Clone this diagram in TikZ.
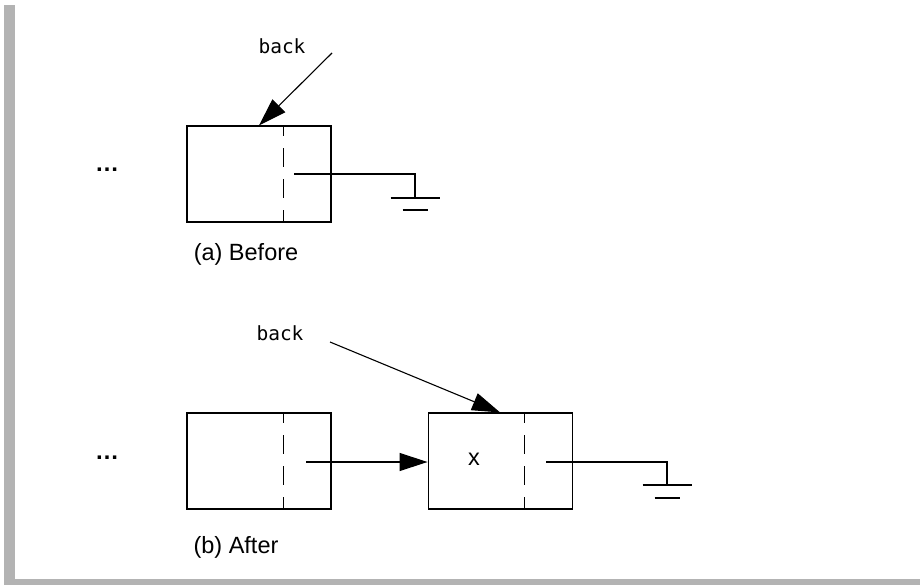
\documentclass[tikz,border=0pt]{standalone}
\usepackage{fontspec}
\setmainfont{Liberation Sans}
\newfontfamily\ptrfont{DejaVu Sans Mono}
\usetikzlibrary{arrows.meta,calc,positioning}
\definecolor{Frame}{HTML}{B3B3B3}

\begin{document}
\begin{tikzpicture}[
      x=1pt, y=-1pt,
      line width=1.1pt,
      >={Triangle[length=28pt,width=18pt]},
      cell/.style={draw, minimum width=144pt, minimum height=96pt, inner sep=0pt},
      divider/.style={dash pattern=on 19pt off 12pt, dash phase=8pt},
      lbl/.style={font=\fontsize{23.5}{28}\selectfont, inner sep=0pt},
      dots/.style={font=\bfseries\fontsize{24}{28}\selectfont, inner sep=0pt},
      ptrlbl/.style={font=\ptrfont\fontsize{19.5}{23}\selectfont, inner sep=0pt}
    ]
      \useasboundingbox (0,0) rectangle (920,585);
      \fill[Frame] (4,5) rectangle (15,585);
      \fill[Frame] (4,579) rectangle (920,585);

      % (a) before
      \node[cell] (a) at (259,174) {};
      \node[dots] (adots) at (107,170) {…};
      \node[lbl] (alab) at (246,254) {(a) Before};
      \node[ptrlbl] (aback) at (282,46) {back};
      \coordinate (atail) at (332,53);
      \coordinate (aptr) at (294,174);
      \coordinate (agnd) at (415,174);
      \draw[divider] ($(a.north west)!2/3!(a.north east)$) -- ($(a.south west)!2/3!(a.south east)$);
      \draw[->] (atail) -- (a.north);
      \draw (aptr) -- (agnd) -- ++(0,24) coordinate (agb);
      \draw ([xshift=-24.5pt]agb) -- ([xshift=24.5pt]agb);
      \draw ([shift={(-12.5,12)}]agb) -- ([shift={(12.5,12)}]agb);

      % (b) after
      \node[cell] (b1) at (259,461) {};
      \node[cell, right=96pt of b1] (b2) {};
      \node[lbl] (bval) at (474,459) {x};
      \node[dots] (bdots) at (107,458) {…};
      \node[lbl] (blab) at (236,547) {(b) After};
      \node[ptrlbl] (bback) at (280,333) {back};
      \coordinate (btail) at (330,342);
      \coordinate (b1ptr) at (306,462);
      \coordinate (b2ptr) at (546,462);
      \coordinate (bgnd) at (667,462);
      \draw[divider] ($(b1.north west)!2/3!(b1.north east)$) -- ($(b1.south west)!2/3!(b1.south east)$);
      \draw[divider] ($(b2.north west)!2/3!(b2.north east)$) -- ($(b2.south west)!2/3!(b2.south east)$);
      \draw[->] (btail) -- (b2.north);
      \draw[->] (b1ptr) -- (b1ptr -| b2.west);
      \draw (b2ptr) -- (bgnd) -- ++(0,23) coordinate (bgb);
      \draw ([xshift=-24.5pt]bgb) -- ([xshift=24.5pt]bgb);
      \draw ([shift={(-12.5,13)}]bgb) -- ([shift={(12.5,13)}]bgb);
    \end{tikzpicture}
\end{document}
